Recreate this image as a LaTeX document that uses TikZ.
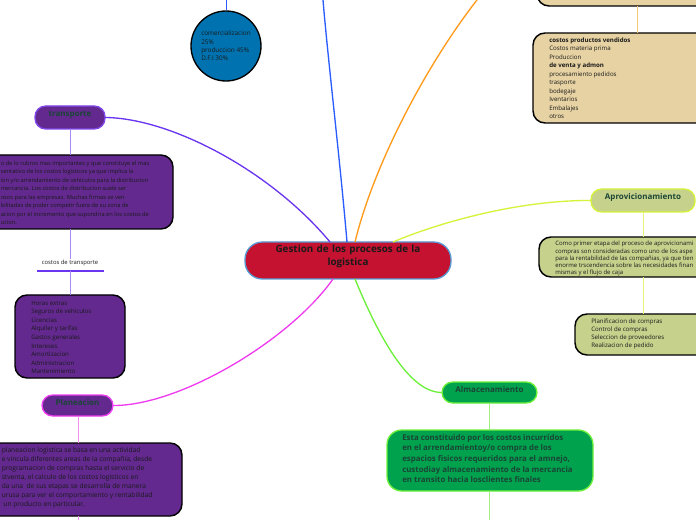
\documentclass[tikz,border=0pt]{standalone}
\usepackage{fontspec}
\setmainfont{Open Sans}
\usetikzlibrary{fit}
\definecolor{purpfill}{HTML}{63298F}
\definecolor{purpline}{HTML}{6A35F0}
\definecolor{lavline}{HTML}{A98AF5}
\definecolor{trborder}{HTML}{8048EA}
\definecolor{magline}{HTML}{F03CF0}
\definecolor{maglight}{HTML}{F290F2}
\definecolor{blueline}{HTML}{2B5CFF}
\definecolor{circfill}{HTML}{0072B0}
\definecolor{orangeline}{HTML}{FF9A1A}
\definecolor{orangelight}{HTML}{F7C47A}
\definecolor{tanfill}{HTML}{E6D2A2}
\definecolor{yelline}{HTML}{D6F23A}
\definecolor{yellight}{HTML}{E6F57A}
\definecolor{olivefill}{HTML}{C6D18C}
\definecolor{greenline}{HTML}{6CF03A}
\definecolor{greenlight}{HTML}{A0F07E}
\definecolor{greenfill}{HTML}{00A24E}
\definecolor{redfill}{HTML}{C41230}
\definecolor{redborder}{HTML}{5B9BD5}
\definecolor{titletext}{HTML}{1B4535}
\definecolor{bodytext}{HTML}{1A1A1A}
\tikzset{
  boxbase/.style={inner sep=0pt, outer sep=0pt},
  darkbox/.style={boxbase, draw=black, line width=1.1pt, rounded corners=9pt},
  pill/.style={boxbase, line width=1pt, rounded corners=8pt, text=titletext,
    font=\fontsize{6}{7}\selectfont\bfseries},
  bodytxt/.style={inner sep=0pt, anchor=north west, align=left, text=bodytext},
  conn/.style={line width=1pt},
  thin/.style={line width=0.6pt}
}
\begin{document}
\begin{tikzpicture}[x=0.75pt,y=-0.75pt]
\useasboundingbox (0,0) rectangle (696,520);
\clip (0,0) rectangle (696,520);

% ---------- central node
\node[boxbase, fill=redfill, draw=redborder, line width=1pt, rounded corners=13pt,
      fit={(245,242) (451,279)}, text=bodytext, align=center,
      font=\fontsize{7.4}{9.6}\selectfont\bfseries] (central)
      {Gestion de los procesos de la\\logistica};
\coordinate (cP) at (330,242);
\coordinate (cB) at (347,242);
\coordinate (cO) at (355,242);
\coordinate (cY) at (393,242);
\coordinate (cM) at (333,279);
\coordinate (cG) at (355,279);
\coordinate (topB) at (323,0);
\coordinate (topO) at (477,0);

% ---------- transporte branch
\node[pill, fill=purpfill, draw=trborder, fit={(35,106) (105,129)}] (tr) {transporte};
\node[darkbox, fill=purpfill, fit={(-30,155) (173,229)}] (trbox) {};
\node[bodytxt, font=\fontsize{4.3}{6.4}\selectfont] (trtext) at (0.5,160.5)
 {o de lo rubros mas importantes y que constituye el mas\\
  sentativo de los costos logisticos ya que implica la\\
  ion y/o arrendamiento de vehiculos para la distribucion\\
  mercancia. Los costos de distribucion suele ser\\
  osos para las empresas. Muchas firmas se ven\\
  bilitadas de poder competir fuera de su zona de\\
  acion por el incremento que supondria en los costos de\\
  ucion.};
\node[inner sep=0pt, text=bodytext, font=\fontsize{4.4}{5}\selectfont] (ctlabel) at (70,262.5) {costos de transporte};
\coordinate (ulL) at (37,271);
\coordinate (ulR) at (104,271);
\draw[purpline, line width=1pt] (ulL) -- (ulR);
\node[darkbox, fill=purpfill, fit={(15,295) (125,378)}] (listbox) {};
\node[bodytxt, font=\fontsize{4.6}{6.45}\selectfont] (listtext) at (31,300.5)
 {Horas extras\\Seguros de vehiculos\\Licencias\\Alquiler y tarifas\\Gastos generales\\
  Intereses\\Amortizacion\\Administracion\\Mantenimiento};
\draw[lavline, thin] (tr.south) -- (tr.south |- trbox.north);
\draw[lavline, thin] (tr.south |- trbox.south) -- (tr.south |- ctlabel.north);
\draw[lavline, thin] (tr.south |- ulL) -- (tr.south |- listbox.north);

% ---------- Planeacion branch
\node[pill, fill=purpfill, draw=magline, fit={(42,395) (113,416)}] (plan) {Planeacion};
\node[darkbox, fill=purpfill, fit={(-30,443) (182,516)}] (planbox) {};
\node[bodytxt, font=\fontsize{5}{6.75}\selectfont] (plantext) at (1.5,447.5)
 {planeacion logistica se basa en una actividad\\
  e vincula diferentes areas de la compañia, desde\\
  programacion de compras hasta el servicio de\\
  stventa, el calculo de los costos logisticos en\\
  da una \ de sus etapas se desarrolla de manera\\
  urusa para ver el comportamiento y rentabilidad\\
  \ un producto en particular.};
\coordinate (planend) at (78,520);
\draw[maglight, thin] (plan.south -| 78,0) -- (planbox.north -| 78,0);
\draw[maglight, thin] (planbox.south -| 78,0) -- (planend);

% ---------- blue circle
\node[circle, draw=black, line width=1pt, fill=circfill, minimum size=52.5pt, inner sep=0pt] (circ) at (226,46) {};
\node[bodytxt, font=\fontsize{4.8}{6.3}\selectfont] (circtext) at (201,30.5)
 {comercializacion\\25\%\\produccion 45\%\\D.F.I 30\%};
\coordinate (circtop) at (226,0);
\draw[blueline, thin] (circ.north) -- (circtop);

% ---------- tan boxes (top right)
\node[darkbox, fill=tanfill, fit={(537,-40) (720,6)}] (tan1) {};
\node[darkbox, fill=tanfill, fit={(533,33) (720,123)}] (tan2) {};
\node[bodytxt, font=\fontsize{4.6}{6.35}\selectfont] (tantext) at (549,37.5)
 {\textbf{costos productos vendidos}\\Costos materia prima\\Produccion\\\textbf{de venta y admon}\\
  procesamiento pedidos\\trasporte\\bodegaje\\Iventarios\\Embalajes\\otros};
\draw[orangelight, thin] (tan1.south -| 637,0) -- (tan2.north -| 637,0);

% ---------- Aprovicionamiento branch
\node[pill, fill=olivefill, draw=yelline, fit={(591,189) (695,212)}] (aprov) {Aprovicionamiento};
\node[darkbox, fill=olivefill, fit={(539,237) (740,277)}] (apbox) {};
\node[bodytxt, font=\fontsize{4.5}{5.4}\selectfont] (aptext) at (555,241)
 {Como primer etapa del proceso de aprovicionami\\
  compras son consideradas como uno de los aspe\\
  para la rentabilidad de las compañias, ya que tien\\
  enorme trscendencia sobre las necesidades finan\\
  mismas y el flujo de caja};
\node[darkbox, fill=olivefill, fit={(575,314) (740,355)}] (ap2box) {};
\node[bodytxt, font=\fontsize{4.6}{6.1}\selectfont] (ap2text) at (591,318.5)
 {Planificacion de compras\\Control de compras\\Seleccion de proveedores\\Realizacion de pedido};
\draw[yellight, thin] (aprov.south -| 643,0) -- (apbox.north -| 643,0);
\draw[yellight, thin] (apbox.south -| 643,0) -- (ap2box.north -| 643,0);

% ---------- Almacenamiento branch
\node[pill, fill=greenfill, draw=greenline, fit={(442,382) (537,403)}] (alm) {Almacenamiento};
\node[boxbase, fill=greenfill, draw=greenline, line width=1pt, rounded corners=11pt,
      fit={(387,430) (593,491)}] (almbox) {};
\node[bodytxt, text=titletext, font=\fontsize{5.9}{8}\selectfont\bfseries] (almtext) at (402,434)
 {Esta constituido por los costos incurridos\\
  en el arrendamientoy/o compra de los\\
  espacios fisicos requeridos para el amnejo,\\
  custodiay almacenamiento de la mercancia\\
  en transito hacia losclientes finales};
\coordinate (almend) at (489,520);
\draw[greenlight, thin] (alm.south -| 489,0) -- (almbox.north -| 489,0);
\draw[greenlight, thin] (almbox.south -| 489,0) -- (almend);

% ---------- main connectors
\draw[purpline, conn] (cP) .. controls (270,170) and (170,118) .. (tr.east);
\draw[blueline, conn] (cB) .. controls (340,160) and (328,60) .. (topB);
\draw[orangeline, conn] (cO) .. controls (375,160) and (430,60) .. (topO);
\draw[yelline, conn] (cY) .. controls (440,222) and (520,200) .. (aprov.west);
\draw[magline, conn] (cM) .. controls (290,340) and (180,406) .. (plan.east);
\draw[greenline, conn] (cG) .. controls (372,320) and (405,393) .. (alm.west);
\end{tikzpicture}
\end{document}
